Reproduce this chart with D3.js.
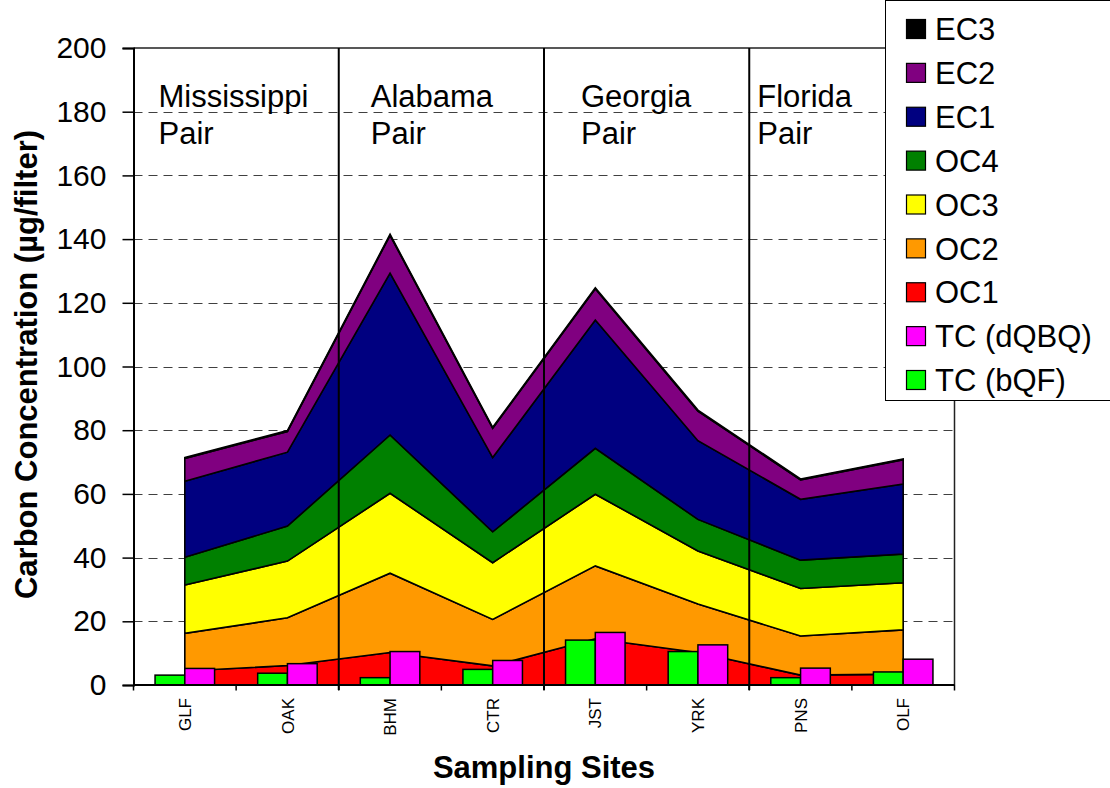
<!DOCTYPE html>
<html>
<head>
<meta charset="utf-8">
<script src="https://cdn.jsdelivr.net/npm/d3@7"></script>
<style>
  html, body { margin: 0; padding: 0; background: #fff; }
  svg { display: block; font-family: "Liberation Sans", Arial, sans-serif; }
</style>
</head>
<body>
<svg id="chart" width="1110" height="788"></svg>
<script>
// ---------- data ----------
const categories = ["GLF", "OAK", "BHM", "CTR", "JST", "YRK", "PNS", "OLF"];
const OC1 = [4.4, 6.1, 10.2, 6.0, 14.5, 10.2, 3.1, 3.4];
const OC2 = [11.8, 15.0, 24.9, 14.6, 22.9, 15.2, 12.3, 13.9];
const OC3 = [15.2, 17.8, 25.1, 17.8, 22.5, 16.7, 14.9, 14.8];
const OC4 = [8.7, 11.0, 18.3, 9.7, 14.4, 9.9, 8.9, 9.0];
const EC1 = [23.9, 23.2, 50.8, 23.3, 40.3, 24.7, 19.1, 22.0];
const EC2 = [7.1, 6.5, 11.9, 9.2, 9.8, 9.3, 6.1, 7.6];
const EC3 = [0.3, 0.3, 0.3, 0.3, 0.3, 0.3, 0.3, 0.3];
const TC_bQF = [3.1, 3.7, 2.3, 4.9, 14.1, 10.5, 2.3, 4.1];
const TC_dQBQ = [5.2, 6.7, 10.5, 7.7, 16.5, 12.6, 5.3, 8.1];
const yTicks = [0, 20, 40, 60, 80, 100, 120, 140, 160, 180, 200];
const regionNames = ["Mississippi", "Alabama", "Georgia", "Florida"];
const regionSub = "Pair";
const legendLabels = ["EC3", "EC2", "EC1", "OC4", "OC3", "OC2", "OC1", "TC (dQBQ)", "TC (bQF)"];

// ---------- styles ----------
const colors = {
  EC3: "#000000", EC2: "#800080", EC1: "#000080", OC4: "#008000",
  OC3: "#FFFF00", OC2: "#FF9900", OC1: "#FF0000",
  "TC (dQBQ)": "#FF00FF", "TC (bQF)": "#00FF00"
};

const svg = d3.select("#chart");
const pLeft = 133.5, pRight = 954.5, pTop = 48, pBottom = 685;

const x = d3.scaleBand().domain(categories).range([pLeft, pRight]).paddingInner(0).paddingOuter(0);
const y = d3.scaleLinear().domain([0, 200]).range([pBottom, pTop]);
const bw = x.bandwidth();
const cx = c => x(c) + bw / 2;

// stacked data table
const keys = ["OC1", "OC2", "OC3", "OC4", "EC1", "EC2", "EC3"];
const series = { OC1, OC2, OC3, OC4, EC1, EC2, EC3 };
const table = categories.map((c, i) => {
  const row = { cat: c };
  keys.forEach(k => row[k] = series[k][i]);
  return row;
});
const stacked = d3.stack().keys(keys)(table);

// gridlines
svg.append("g").selectAll("line")
  .data(yTicks.filter(t => t > 0 && t < 200))
  .join("line")
  .attr("x1", pLeft).attr("x2", pRight)
  .attr("y1", d => Math.round(y(d)) + 0.5).attr("y2", d => Math.round(y(d)) + 0.5)
  .attr("stroke", "#404040").attr("stroke-width", 1)
  .attr("stroke-dasharray", "9,6");

// plot frame (top and right)
svg.append("path")
  .attr("d", `M${pLeft},${pTop}H${pRight}V${pBottom}`)
  .attr("fill", "none").attr("stroke", "#222").attr("stroke-width", 1.5);

// areas
const area = d3.area()
  .x(d => cx(d.data.cat))
  .y0(d => y(d[0]))
  .y1(d => y(d[1]))
  .curve(d3.curveLinear);

svg.append("g").selectAll("path")
  .data(stacked)
  .join("path")
  .attr("d", area)
  .attr("fill", d => colors[d.key])
  .attr("stroke", "#000")
  .attr("stroke-width", 1.6)
  .attr("stroke-linejoin", "miter");

// region separators
const sepCats = [categories[2], categories[4], categories[6]];
svg.append("g").selectAll("line")
  .data(sepCats)
  .join("line")
  .attr("x1", d => x(d)).attr("x2", d => x(d))
  .attr("y1", pTop).attr("y2", pBottom + 5)
  .attr("stroke", "#000").attr("stroke-width", 2);

// bars
const barW = bw * 0.29;
const barG = svg.append("g");
barG.selectAll("rect.bqf")
  .data(categories.map((c, i) => ({ c, v: TC_bQF[i] })))
  .join("rect").attr("class", "bqf")
  .attr("x", d => cx(d.c) - barW).attr("width", barW)
  .attr("y", d => y(d.v)).attr("height", d => y(0) - y(d.v))
  .attr("fill", colors["TC (bQF)"]).attr("stroke", "#000").attr("stroke-width", 1.5);
barG.selectAll("rect.dqbq")
  .data(categories.map((c, i) => ({ c, v: TC_dQBQ[i] })))
  .join("rect").attr("class", "dqbq")
  .attr("x", d => cx(d.c)).attr("width", barW)
  .attr("y", d => y(d.v)).attr("height", d => y(0) - y(d.v))
  .attr("fill", colors["TC (dQBQ)"]).attr("stroke", "#000").attr("stroke-width", 1.5);

// region labels
const regionStart = [categories[0], categories[2], categories[4], categories[6]];
const regionOffset = [25, 32, 37, 8];
const rg = svg.append("g").attr("font-size", 31).attr("fill", "#000");
regionNames.forEach((name, i) => {
  rg.append("text").attr("x", x(regionStart[i]) + regionOffset[i]).attr("y", 107).text(name);
  rg.append("text").attr("x", x(regionStart[i]) + regionOffset[i]).attr("y", 144).text(regionSub);
});

// y axis
const yAxis = svg.append("g")
  .attr("transform", `translate(${pLeft},0)`)
  .call(d3.axisLeft(y).tickValues(yTicks).tickSize(11).tickPadding(16).tickFormat(d3.format("d")));
yAxis.select(".domain").attr("stroke", "#000").attr("stroke-width", 2);
yAxis.selectAll(".tick line").attr("stroke", "#000").attr("stroke-width", 1.5);
yAxis.selectAll(".tick text").attr("font-size", 30).attr("font-family", "Liberation Sans, Arial, sans-serif").attr("fill", "#000");

// x axis
const xAxis = svg.append("g").attr("transform", `translate(0,${pBottom})`);
xAxis.append("line").attr("x1", pLeft).attr("x2", pRight).attr("y1", 0).attr("y2", 0)
  .attr("stroke", "#000").attr("stroke-width", 2);
xAxis.selectAll("line.tk")
  .data(categories.concat(["__end"]))
  .join("line").attr("class", "tk")
  .attr("x1", d => d === "__end" ? pRight : x(d))
  .attr("x2", d => d === "__end" ? pRight : x(d))
  .attr("y1", 0).attr("y2", 5.5)
  .attr("stroke", "#000").attr("stroke-width", 1.5);
xAxis.selectAll("text.lbl")
  .data(categories)
  .join("text").attr("class", "lbl")
  .attr("transform", d => `translate(${cx(d)},13) rotate(-90)`)
  .attr("text-anchor", "end")
  .attr("dy", "0.36em")
  .attr("font-size", 17)
  .attr("fill", "#000")
  .text(d => d);

// axis titles
svg.append("text")
  .attr("transform", `translate(37,${(122 + 607) / 2}) rotate(-90)`)
  .attr("text-anchor", "middle")
  .attr("font-size", 31).attr("font-weight", "bold")
  .text("Carbon Concentration (\u00b5g/filter)");
svg.append("text")
  .attr("x", 544).attr("y", 778)
  .attr("text-anchor", "middle")
  .attr("font-size", 31).attr("font-weight", "bold")
  .text("Sampling Sites");

// legend
const lg = svg.append("g");
lg.append("rect").attr("x", 885.5).attr("y", 0.5).attr("width", 240).attr("height", 400)
  .attr("fill", "#fff").attr("stroke", "#000").attr("stroke-width", 1);
const rowY = d3.scalePoint().domain(legendLabels).range([29, 380]);
const items = lg.selectAll("g.item").data(legendLabels).join("g").attr("class", "item")
  .attr("transform", d => `translate(906,${rowY(d)})`);
items.append("rect").attr("x", 0.5).attr("y", -9.5).attr("width", 19).attr("height", 19)
  .attr("fill", d => colors[d]).attr("stroke", "#000").attr("stroke-width", 1.2);
items.append("text").attr("x", 29).attr("dy", "0.36em").attr("font-size", 31).attr("fill", "#000")
  .text(d => d);
</script>
</body>
</html>
